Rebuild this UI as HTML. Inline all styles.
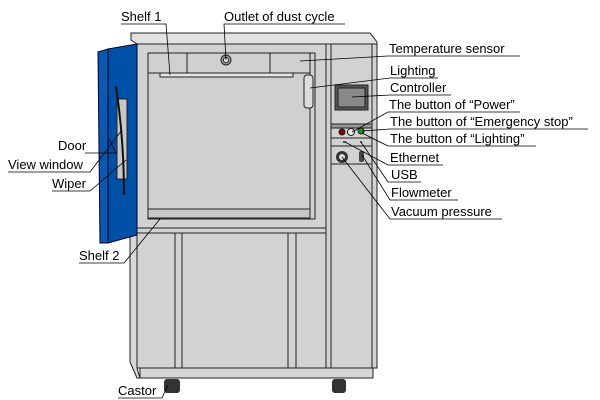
<!DOCTYPE html>
<html><head><meta charset="utf-8"><style>
html,body{margin:0;padding:0;background:#fff;}
svg{display:block;}
text{font-family:"Liberation Sans",sans-serif;font-size:13px;fill:#000;}
</style></head><body>
<svg width="600" height="400" viewBox="0 0 600 400" xmlns="http://www.w3.org/2000/svg">
<g stroke="#222" stroke-width="1">
<polygon points="131,33 370,33 377,42 377,44 137,44 131,40" fill="#e2e2e2"/>
<rect x="137" y="44" width="240" height="324" fill="#d2d2d2"/>
<line x1="326" y1="44" x2="326" y2="368"/>
<line x1="331" y1="44" x2="331" y2="368"/>
<line x1="372" y1="44" x2="372" y2="368"/>
<polygon points="130,234 137,234 137,368 140,378 137,378 130,362" fill="#d8d8d8"/>
<rect x="148" y="53" width="167" height="166" fill="#d0d0d0"/>
<line x1="310" y1="53" x2="310" y2="219"/>
<line x1="148" y1="73" x2="310" y2="73"/>
<line x1="187" y1="53" x2="187" y2="73"/>
<line x1="270" y1="53" x2="270" y2="73"/>
<rect x="160" y="73" width="133" height="4" fill="#e4e4e4"/>
<rect x="148" y="209" width="162" height="9" fill="#c8c8c8"/>
<line x1="137" y1="228" x2="326" y2="228"/>
<line x1="137" y1="233" x2="326" y2="233"/>
<line x1="175" y1="233" x2="175" y2="368"/>
<line x1="182" y1="233" x2="182" y2="368"/>
<line x1="288" y1="233" x2="288" y2="368"/>
<line x1="296" y1="233" x2="296" y2="368"/>
<rect x="140" y="368" width="233" height="10" fill="#d6d6d6"/>
<circle cx="226" cy="60" r="5" fill="#999"/>
<circle cx="226" cy="60" r="2.5" fill="#eee"/>
<rect x="304" y="75" width="9" height="33" rx="3" fill="#ddd"/>
<rect x="335" y="85" width="33" height="25" fill="#555"/>
<rect x="338" y="88" width="27" height="19" fill="#888"/>
<rect x="331" y="124" width="41" height="4" fill="#999"/>
<line x1="331" y1="138" x2="372" y2="138"/>
<line x1="331" y1="146" x2="372" y2="146"/>
<line x1="331" y1="164" x2="372" y2="164"/>
</g>
<circle cx="342" cy="132" r="3" fill="#800" stroke="#222"/>
<circle cx="351" cy="132" r="3.5" fill="#eee" stroke="#222"/>
<circle cx="361" cy="131" r="3" fill="#1a9a1a" stroke="#222"/>
<rect x="343" y="141" width="3" height="2" fill="#555"/>
<circle cx="361" cy="142" r="1" fill="#333"/>
<circle cx="342" cy="157" r="6" fill="#333"/>
<circle cx="342" cy="157" r="3" fill="#ddd"/>
<rect x="359" y="151" width="5" height="11" rx="2" fill="#444"/>
<polygon points="98,52 108,49 108,243 100,243" fill="#0a58b0" stroke="#002" stroke-width="1"/>
<polygon points="108,49 137,44 137,235 108,243" fill="#0050a8" stroke="#002" stroke-width="1"/>
<rect x="117" y="99" width="10" height="80" fill="#c8c8c8" stroke="#222"/>
<path d="M116,86 Q124,140 124,195" fill="none" stroke="#111" stroke-width="2"/>
<rect x="164" y="379" width="16" height="14" rx="3" fill="#333"/>
<rect x="332" y="379" width="14" height="14" rx="3" fill="#333"/>
<g stroke="#000" stroke-width="0.8" fill="none">
<polyline points="121,24 166,24 170,75"/>
<polyline points="345,24 224,24 226,60"/>
<polyline points="300,61 388,56 520,56"/>
<polyline points="310,88 390,78 438,78"/>
<polyline points="352,97 390,95 451,95"/>
<polyline points="352,132 388,112 520,112"/>
<polyline points="362,131 390,129 588,129"/>
<polyline points="362,133 388,146 536,146"/>
<polyline points="345,142 388,165 443,165"/>
<polyline points="361,142 388,182 421,182"/>
<polyline points="362,155 390,200 458,200"/>
<polyline points="342,157 390,219 502,219"/>
<polyline points="85,153 116,153 108,137"/>
<polyline points="8,172 90,172 122,130"/>
<polyline points="52,191 90,191 126,160"/>
<polyline points="79,263 124,263 160,219"/>
<polyline points="118,398 162,398 168,385"/>
</g>
<text x="121" y="21">Shelf 1</text>
<text x="224" y="21">Outlet of dust cycle</text>
<text x="389" y="53">Temperature sensor</text>
<text x="390" y="75">Lighting</text>
<text x="390" y="92">Controller</text>
<text x="389" y="109">The button of “Power”</text>
<text x="390" y="126">The button of “Emergency stop”</text>
<text x="390" y="143">The button of “Lighting”</text>
<text x="390" y="162">Ethernet</text>
<text x="391" y="179">USB</text>
<text x="391" y="197">Flowmeter</text>
<text x="391" y="216">Vacuum pressure</text>
<text x="58" y="150">Door</text>
<text x="8" y="169">View window</text>
<text x="52" y="188">Wiper</text>
<text x="79" y="260">Shelf 2</text>
<text x="118" y="395">Castor</text>
</svg>
</body></html>
